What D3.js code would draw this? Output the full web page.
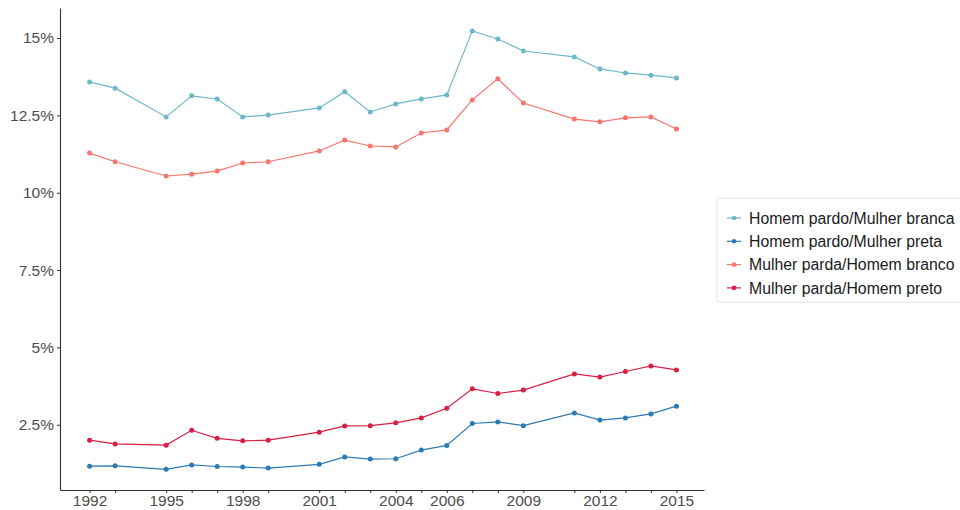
<!DOCTYPE html>
<html>
<head>
<meta charset="utf-8">
<script src="https://cdn.jsdelivr.net/npm/d3@7"></script>
<style>
  body { margin: 0; background: #fff; overflow: hidden; }
  text { font-family: "Liberation Sans", Arial, sans-serif; }
</style>
</head>
<body>
<div id="chart"></div>
<script>
// Years of the survey (no data for 1994, 2000, 2010)
const years = [1992, 1993, 1995, 1996, 1997, 1998, 1999, 2001, 2002, 2003, 2004,
  2005, 2006, 2007, 2008, 2009, 2011, 2012, 2013, 2014, 2015];
const labelYears = [1992, 1995, 1998, 2001, 2004, 2006, 2009, 2012, 2015];
const yTicks = [2.5, 5, 7.5, 10, 12.5, 15];

const seriesNames = ['Homem pardo/Mulher branca', 'Homem pardo/Mulher preta',
  'Mulher parda/Homem branco', 'Mulher parda/Homem preto'];
const seriesColors = ['#6fb8c8', '#2b7bb4', '#f8766d', '#d81e42'];

const homemParMulherBranca = [13.58, 13.38, 12.45, 13.13, 13.03, 12.45, 12.51, 12.74, 13.26, 12.61, 12.87,
  13.03, 13.16, 15.23, 14.97, 14.58, 14.39, 14.0, 13.87, 13.8, 13.71];
const homemParMulherPreta = [1.16, 1.17, 1.06, 1.2, 1.15, 1.13, 1.1, 1.22, 1.46, 1.39, 1.4,
  1.68, 1.83, 2.54, 2.59, 2.47, 2.88, 2.65, 2.72, 2.85, 3.1];
const mulherParHomemBranco = [11.28, 11.0, 10.54, 10.6, 10.7, 10.96, 11.0, 11.35, 11.7, 11.51, 11.48,
  11.93, 12.03, 13.0, 13.68, 12.9, 12.38, 12.29, 12.42, 12.45, 12.06];
const mulherParHomemPreto = [2.0, 1.88, 1.84, 2.32, 2.06, 1.98, 2.0, 2.26, 2.46, 2.47, 2.56,
  2.72, 3.03, 3.66, 3.51, 3.62, 4.14, 4.04, 4.22, 4.4, 4.27];

const seriesValues = [homemParMulherBranca, homemParMulherPreta, mulherParHomemBranco, mulherParHomemPreto];

const width = 960, height = 510;

const svg = d3.select('#chart').append('svg')
  .attr('width', width)
  .attr('height', height);

const x = d3.scaleLinear()
  .domain([1990.84, 2016.08])
  .range([60, 704]);

const y = d3.scaleLinear()
  .domain([0.39, 15.97])
  .range([490, 8]);

// X axis
const xAxis = svg.append('g')
  .attr('transform', 'translate(0,490)')
  .call(d3.axisBottom(x)
    .tickValues(years)
    .tickSize(3)
    .tickSizeOuter(0)
    .tickFormat(d => labelYears.includes(d) ? d : ''));
xAxis.select('.domain').attr('stroke', '#333').attr('stroke-width', 1.1);
xAxis.selectAll('.tick line').attr('stroke', '#333');
xAxis.selectAll('.tick text')
  .attr('fill', '#4d4d4d')
  .attr('font-size', '15.5px')
  .attr('y', 5)
  .attr('dy', '0.71em');

// Y axis
const yAxis = svg.append('g')
  .attr('transform', 'translate(60,0)')
  .call(d3.axisLeft(y)
    .tickValues(yTicks)
    .tickSize(3)
    .tickSizeOuter(0)
    .tickFormat(d => d + '%'));
yAxis.select('.domain').attr('stroke', '#333').attr('stroke-width', 1.1);
yAxis.selectAll('.tick line').attr('stroke', '#333');
yAxis.selectAll('.tick text')
  .attr('fill', '#4d4d4d')
  .attr('font-size', '15.5px')
  .attr('x', -6);

// Lines and points
const line = d3.line()
  .x((d, i) => x(years[i]))
  .y(d => y(d));

seriesValues.forEach((vals, s) => {
  const g = svg.append('g');
  g.append('path')
    .datum(vals)
    .attr('fill', 'none')
    .attr('stroke', seriesColors[s])
    .attr('stroke-width', 1.2)
    .attr('d', line);
  g.selectAll('circle')
    .data(vals)
    .enter()
    .append('circle')
    .attr('cx', (d, i) => x(years[i]))
    .attr('cy', d => y(d))
    .attr('r', 2.5)
    .attr('fill', seriesColors[s]);
});

// Legend
const legend = svg.append('g')
  .attr('transform', 'translate(717,198)');

legend.append('rect')
  .attr('width', 260)
  .attr('height', 104)
  .attr('fill', '#fff')
  .attr('stroke', '#e3e3e3');

const items = legend.selectAll('.item')
  .data(seriesNames)
  .enter()
  .append('g')
  .attr('class', 'item')
  .attr('transform', (d, i) => `translate(0, ${20 + i * 23.3})`);

items.append('line')
  .attr('x1', 10)
  .attr('x2', 24)
  .attr('stroke', (d, i) => seriesColors[i])
  .attr('stroke-width', 1.2);

items.append('circle')
  .attr('cx', 17)
  .attr('r', 2.3)
  .attr('fill', (d, i) => seriesColors[i]);

items.append('text')
  .attr('x', 32)
  .attr('dy', '0.36em')
  .attr('font-size', '15.8px')
  .attr('fill', '#1a1a1a')
  .text(d => d);
</script>
</body>
</html>
